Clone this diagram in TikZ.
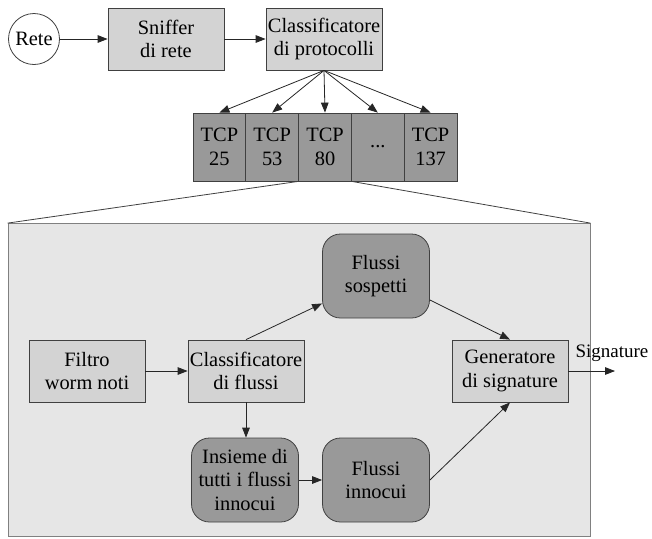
\documentclass[tikz,border=0pt]{standalone}
\usepackage{fontspec}
\setmainfont{Liberation Serif}
\usepackage{tikz}
\usetikzlibrary{arrows.meta, positioning}
\tikzset{>={Triangle[length=5pt,width=3.8pt]}}
\definecolor{boxgray}{HTML}{D3D3D3}
\definecolor{flowgray}{HTML}{999999}
\definecolor{panelgray}{HTML}{E6E6E6}
\tikzset{
  block/.style={draw=black!75, fill=boxgray, align=center, minimum width=58pt, minimum height=31pt, inner sep=0pt},
  flow/.style={draw=black!75, fill=flowgray, rounded corners=9pt, align=center, minimum width=53.5pt, minimum height=42pt, inner sep=0pt},
  port/.style={draw=black!75, fill=flowgray, align=center, minimum width=26.4pt, minimum height=34pt, inner sep=0pt},
  link/.style={->, draw=black!85, line width=0.4pt},
}

\begin{document}
\begin{tikzpicture}[x=0.5pt, y=-0.5pt, font=\fontsize{10.2}{11.8}\selectfont]
  \useasboundingbox (0,0) rectangle (652,538);
  % ingresso
  \node [draw=black!75, fill=white, circle, minimum size=25.5pt, inner sep=0pt] (rete) at (34,39) {Rete};
  \node [block] (sniffer) at (166,39) {Sniffer\\di rete};
  \node [block] (protocolli) at (324,39) {Classificatore\\di protocolli};
  \draw [link] (rete) -- (sniffer);
  \draw [link] (sniffer) -- (protocolli);
  % porte
  \foreach \i/\txt in {1/{TCP\\25}, 2/{TCP\\53}, 3/{TCP\\80}, 4/{...}, 5/{TCP\\137}} {
    \node [port] (tcp\i) at ({219.4+52.8*(\i-1)},147) {\txt};
    \draw [link] (protocolli.south) -- (tcp\i.north);
  }
  % dettaglio TCP 80
  \node [draw=black!50, fill=panelgray, minimum width=291pt, minimum height=156.5pt, inner sep=0pt] (panel) at (299,380) {};
  \draw [black!75] (tcp3.south west) -- (panel.north west);
  \draw [black!75] (tcp3.south east) -- (panel.north east);
  \node [block] (filtro) at (87,371) {Filtro\\worm noti};
  \node [block] (flussi) at (246,371) {Classificatore\\di flussi};
  \node [block] (generatore) at (510,371) {Generatore\\di signature};
  \node [flow] (sospetti) at (376,276) {Flussi\\sospetti};
  \node [flow] (insieme) at (245,480) {Insieme di\\tutti i flussi\\innocui};
  \node [flow] (innocui) at (376,480) {Flussi\\innocui};
  \coordinate (uscita) at (615,371);
  \node [anchor=south, inner sep=1pt, font=\fontsize{9.5}{11}\selectfont] (firma) at (612,364) {Signature};
  \draw [link] (filtro) -- (flussi);
  \draw [link] (flussi.north) -- (sospetti.207);
  \draw [link] (sospetti.-24) -- (generatore.north);
  \draw [link] (flussi.south) -- (flussi.south |- insieme.north);
  \draw [link] (insieme) -- (innocui);
  \draw [link] (innocui.east) -- (generatore.south);
  \draw [link] (generatore) -- (uscita);
\end{tikzpicture}
\end{document}
